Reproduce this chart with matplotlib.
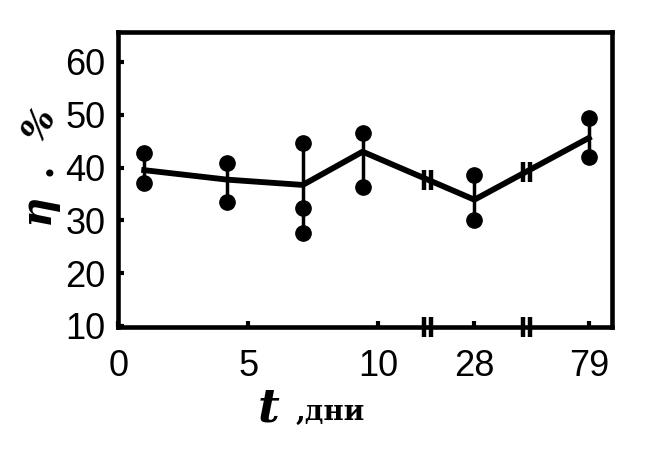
import numpy as np
import matplotlib.pyplot as plt

# positions on the broken time axis (days 1, 4, 7, ~9, 28, 79)
x_pos = [1.0, 4.2, 7.1, 9.4, 13.7, 18.1]
eta_mean = [39.5, 37.7, 36.7, 43.0, 33.9, 45.6]
eta_hi = [42.8, 40.9, 44.7, 46.6, 38.6, 49.4]
eta_lo = [37.1, 33.5, 27.6, 36.3, 30.1, 42.0]
extra_x = [7.1]
extra_y = [32.3]

xtick_pos = [0, 5, 10, 13.7, 18.1]
xtick_lab = ['0', '5', '10', '28', '79']
ytick_vals = [10, 20, 30, 40, 50, 60]
break_x = [11.9, 15.7]

plt.rcParams['font.family'] = ['Liberation Sans', 'DejaVu Sans']

fig = plt.figure(figsize=(6.64, 4.69), dpi=100)
ax = fig.add_axes([0.178, 0.303, 0.744, 0.629])

# error bars
for x, lo, hi in zip(x_pos, eta_lo, eta_hi):
    ax.plot([x, x], [lo, hi], color='black', lw=2.5, solid_capstyle='round')
ax.plot(x_pos, eta_hi, 'o', color='black', ms=11)
ax.plot(x_pos, eta_lo, 'o', color='black', ms=11)
ax.plot(extra_x, extra_y, 'o', color='black', ms=11)

# mean curve
ax.plot(x_pos, eta_mean, color='black', lw=4.2, solid_joinstyle='round')

# break marks on the curve and on the axis
for bx in break_x:
    by = np.interp(bx, x_pos, eta_mean)
    ax.plot([bx - 0.12, bx + 0.12], [by, by], ls='none', marker='|',
            ms=14, mew=3.2, color='black')
    ax.plot([bx - 0.12, bx + 0.12], [9.8, 9.8], ls='none', marker='|',
            ms=15, mew=3.2, color='black', clip_on=False)

ax.set_xlim(0, 19)
ax.set_ylim(9.8, 65.7)
ax.set_xticks(xtick_pos)
ax.set_xticklabels(xtick_lab)
ax.set_yticks(ytick_vals)
ax.set_yticklabels([str(v) for v in ytick_vals])
ax.tick_params(direction='in', length=4, width=3, labelsize=26, pad=9)
ax.tick_params(axis='x', pad=16)
for s in ax.spines.values():
    s.set_linewidth(3.3)

fig.text(0.055, 0.555, 'η', rotation=90, fontsize=30, fontweight='bold',
         style='italic', family='DejaVu Serif', ha='center', va='center')
fig.text(0.075, 0.648, '.', fontsize=28, fontweight='bold',
         family='DejaVu Serif', ha='center', va='center')
fig.text(0.058, 0.735, '%', rotation=60, fontsize=25, fontweight='bold',
         style='italic', family='DejaVu Serif', ha='center', va='center')
fig.text(0.404, 0.128, 't', fontsize=34, fontweight='bold', style='italic',
         family='DejaVu Serif', ha='center', va='center')
fig.text(0.445, 0.12, ',дни', fontsize=20, fontweight='bold',
         family='DejaVu Serif', ha='left', va='center')

fig.savefig('out.png', dpi=100)
